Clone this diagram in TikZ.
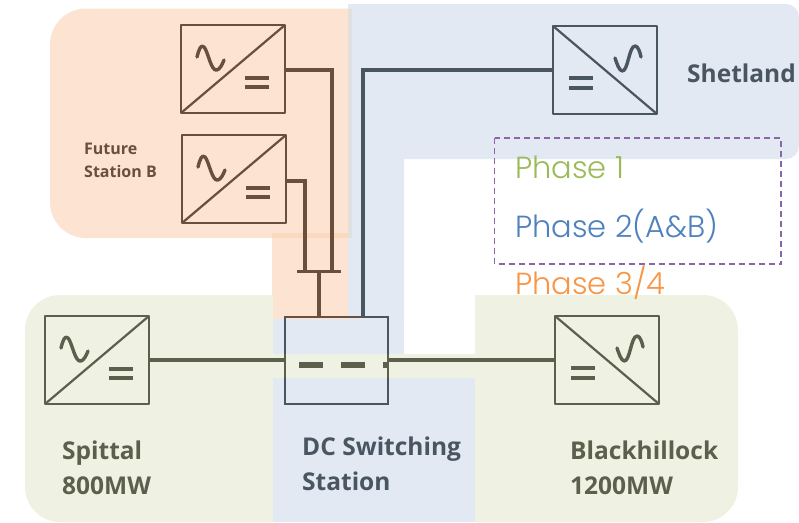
\documentclass[tikz,border=0pt]{standalone}
\usepackage{fontspec}
\setmainfont{Open Sans}
\newfontfamily\phasefont{Poppins Light}
\definecolor{orbg}{HTML}{FDE3D2}
\definecolor{orov}{HTML}{FAD9BF}
\definecolor{blbg}{HTML}{E2E9F3}
\definecolor{mixbg}{HTML}{E2E0DE}
\definecolor{grbg}{HTML}{EFF2E3}
\definecolor{orln}{HTML}{6B4F3D}
\definecolor{blln}{HTML}{4A5562}
\definecolor{grln}{HTML}{5C5F4B}
\definecolor{dashp}{HTML}{8A66A8}
\definecolor{ph1}{HTML}{9BBB59}
\definecolor{ph2}{HTML}{4F81BD}
\definecolor{ph3}{HTML}{F79646}
\tikzset{
  x=1pt,y=-1pt,
  conv/.style={draw=#1,line width=2.2pt,line join=round,minimum width=104pt,minimum height=88pt,inner sep=0pt,outer sep=0pt,anchor=north west},
  link/.style={draw=#1,line width=3.4pt,line join=miter},
  lab/.style={text=#1,font=\bfseries\fontsize{24.5}{35}\selectfont,align=left,anchor=north west,inner sep=0pt},
  phase/.style={text=#1,font=\phasefont\fontsize{30.5}{36}\selectfont,anchor=base west,inner sep=0pt},
}
\newcommand{\acdcsym}[2]{%
  \draw[#2,line width=2.2pt] (#1.south west) -- (#1.north east);
  \draw[#2,line width=3.4pt,line cap=round,line join=round] ([shift={(16,32)}]#1.north west) .. controls ([shift={(18,24)}]#1.north west) and ([shift={(20,19)}]#1.north west) .. ([shift={(23,22)}]#1.north west) .. controls ([shift={(27,26)}]#1.north west) and ([shift={(30,47)}]#1.north west) .. ([shift={(36,45)}]#1.north west) .. controls ([shift={(39,44)}]#1.north west) and ([shift={(41,40)}]#1.north west) .. ([shift={(43,35)}]#1.north west);
  \draw[#2,line width=3.4pt] ([shift={(64,53)}]#1.north west) -- ([shift={(88,53)}]#1.north west);
  \draw[#2,line width=3.4pt] ([shift={(64,62)}]#1.north west) -- ([shift={(88,62)}]#1.north west);
}
\newcommand{\dcacsym}[2]{%
  \draw[#2,line width=2.2pt] (#1.north west) -- (#1.south east);
  \draw[#2,line width=3.4pt,line cap=round,line join=round] ([shift={(62,32)}]#1.north west) .. controls ([shift={(64,38)}]#1.north west) and ([shift={(66,44)}]#1.north west) .. ([shift={(69,45)}]#1.north west) .. controls ([shift={(75,46)}]#1.north west) and ([shift={(76,20)}]#1.north west) .. ([shift={(82,20)}]#1.north west) .. controls ([shift={(85,20)}]#1.north west) and ([shift={(87,26)}]#1.north west) .. ([shift={(88,31)}]#1.north west);
  \draw[#2,line width=3.4pt] ([shift={(16,52)}]#1.north west) -- ([shift={(40,52)}]#1.north west);
  \draw[#2,line width=3.4pt] ([shift={(16,62)}]#1.north west) -- ([shift={(40,62)}]#1.north west);
}
\begin{document}
\begin{tikzpicture}
\useasboundingbox (0,0) rectangle (799,522);
\fill[orbg] (352,8.5) [rounded corners=36pt] -- (50,8.5) -- (50,238) [sharp corners] -- (352,238) -- cycle;
\fill[orbg] (272,233) rectangle (348,319);
\fill[orov] (272,233) rectangle (348,238);
\fill[blbg] (348,4) [rounded corners=13pt] -- (799,4) -- (799,159) [sharp corners] -- (404,159) -- (404,320) -- (348,320) -- cycle;
\fill[mixbg] (348,8.5) rectangle (352,238);
\fill[grbg] (273,295) [rounded corners=35pt] -- (25,295) -- (25,522) [sharp corners] -- (273,522) -- cycle;
\fill[grbg] (475,522) [rounded corners=35pt] -- (738,522) -- (738,295) [sharp corners] -- (475,295) -- cycle;
\fill[blbg] (273,319) rectangle (404,522);
\fill[blbg] (404,378) rectangle (475,522);
\fill[grbg] (271,354) rectangle (476,378);
\node[conv=orln] (a) at (181,25) {};
\node[conv=orln] (b) at (182,135) {};
\node[conv=blln] (s) at (553,26) {};
\node[conv=grln] (p) at (45,316) {};
\node[conv=grln] (h) at (555,316) {};
\node[draw=blln,line width=2.2pt,minimum width=103pt,minimum height=87pt,inner sep=0pt,outer sep=0pt,anchor=north west] (w) at (285,317) {};
\acdcsym{a}{orln}
\acdcsym{b}{orln}
\dcacsym{s}{blln}
\acdcsym{p}{grln}
\dcacsym{h}{grln}
\coordinate (jl) at (297,271.5);
\coordinate (jr) at (341,271.5);
\coordinate (jm) at (319,271.5);
\coordinate (wtop) at (319,317);
\coordinate (wtops) at (363,317);
\draw[orln,line width=2.2pt] (w.north west) -- (wtops);
\draw[grln,line width=2.2pt] (285,354) -- (285,378) (388,354) -- (388,378);
\draw[link=orln] ([yshift=-1pt]a.east) -| (332,271.5);
\draw[link=orln] ([yshift=-2pt]b.east) -| (305,271.5);
\draw[orln,line width=3.4pt] (jl) -- (jr);
\draw[link=orln] (jm) -- (wtop);
\draw[link=blln] (s.west) -| (wtops);
\draw[link=grln] (p.east) -- (w.west |- p.east);
\draw[link=grln] (w.east |- h.west) -- (h.west);
\fill[grln] (299,362) rectangle (323,368);
\fill[grln] (341,362) rectangle (365,368);
\fill[grln] (383,362) rectangle (389,368);
\node[lab=orln,font=\bfseries\fontsize{16}{23}\selectfont] (lf) at (84,143) {Future\\Station B};
\node[lab=blln] (ls) at (687,64) {Shetland};
\node[lab=grln] (lp) at (62,441) {Spittal\\800MW};
\node[lab=blln] (ld) at (302,437) {DC Switching\\Station};
\node[lab=grln] (lh) at (570,441) {Blackhillock\\1200MW};
\draw[dashp,line width=1.7pt,dash pattern=on 6pt off 4pt] (494.5,138) rectangle (781,264);
\node[phase=ph1] (p1) at (515,178) {Phase 1};
\node[phase=ph2] (p2) at (515,237) {Phase 2(A\&B)};
\node[phase=ph3] (p3) at (515,294) {Phase 3/4};
\end{tikzpicture}
\end{document}
